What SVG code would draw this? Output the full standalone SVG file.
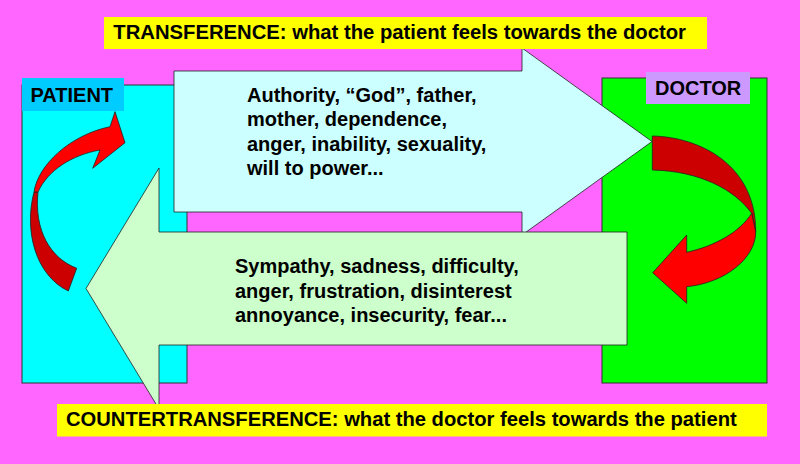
<svg xmlns="http://www.w3.org/2000/svg" width="800" height="464" viewBox="0 0 800 464">
<style>
  text { font-family: "Liberation Sans", Arial, sans-serif; font-weight: bold; fill: #000; }
  .t20 { font-size: 20px; }
  .box { stroke: #333; stroke-width: 1; }
  .ln { stroke: #222; stroke-width: 0.8; stroke-linejoin: miter; }
</style>
<rect x="0" y="0" width="800" height="464" fill="#FF66FF"/>

<g id="patient">
  <rect class="box" x="22" y="85" width="165" height="298" fill="#00FFFF"/>
  <rect x="22" y="78" width="102" height="33" fill="#00CCFF"/>
  <text class="t20" x="30.5" y="102.3">PATIENT</text>
</g>

<g id="doctor">
  <rect class="box" x="602" y="78" width="165" height="305" fill="#00FF00"/>
  <rect x="646" y="72" width="104" height="32" fill="#CC99FF"/>
  <text class="t20" x="655" y="95">DOCTOR</text>
</g>

<g id="patient-loop">
  <path class="ln" fill="#CC0000" d="M34,192 C24,230 35,275 68.3,291 L76.7,268.3 C50,258 34,230 38,192 Z"/>
  <path class="ln" fill="#FF0000" d="M34,192 C38,165 70,135 110,126.7 L115,111.7 L125,142.7 L92.7,168.3 L100,150 C72,155 48,170 38,192 Z"/>
</g>

<g id="doctor-loop">
  <path class="ln" fill="#CC0000" d="M652.3,136 C700,137 756,165 755.7,231.7 L751.7,213.3 C735,190 700,171 652.3,170 Z"/>
  <path class="ln" fill="#FF0000" d="M751.7,213.3 L755.7,231.7 C756,258 725,283 686.7,286.7 L686.7,303.3 L652.7,272.7 L686.7,235 L686.7,252.3 C715,246 740,232 751.7,213.3 Z"/>
</g>

<g id="connectors">
  <g id="transference-arrow">
    <path class="ln" fill="#CCFFFF" d="M174,71 L522,71 L522,48 L652,141.5 L522,235 L522,212 L174,212 Z"/>
    <text class="t20" x="247" y="102">Authority, “God”, father,</text>
    <text class="t20" x="247" y="126.3">mother, dependence,</text>
    <text class="t20" x="247" y="150.5">anger, inability, sexuality,</text>
    <text class="t20" x="247" y="174.5">will to power...</text>
  </g>
  <g id="countertransference-arrow">
    <path class="ln" fill="#CCFFCC" d="M627,232 L159,232 L159,168 L86,288.5 L159,409 L159,345 L627,345 Z"/>
    <text class="t20" x="235" y="273.3">Sympathy, sadness, difficulty,</text>
    <text class="t20" x="235" y="297.5">anger, frustration, disinterest</text>
    <text class="t20" x="235" y="321.7">annoyance, insecurity, fear...</text>
  </g>
</g>

<g id="transference-label">
  <rect x="104" y="17" width="603" height="32" fill="#FFFF00"/>
  <text class="t20" x="113.3" y="39.3" textLength="572.7" lengthAdjust="spacingAndGlyphs">TRANSFERENCE: what the patient feels towards the doctor</text>
</g>

<g id="countertransference-label">
  <rect x="57" y="404" width="710" height="32.5" fill="#FFFF00"/>
  <text class="t20" x="66" y="426.3" textLength="670.7" lengthAdjust="spacingAndGlyphs">COUNTERTRANSFERENCE: what the doctor feels towards the patient</text>
</g>
</svg>
